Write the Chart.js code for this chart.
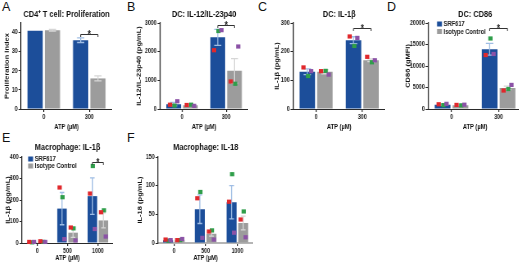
<!DOCTYPE html>
<html>
<head>
<meta charset="utf-8">
<script src="https://cdn.jsdelivr.net/npm/chart.js@4.4.1/dist/chart.umd.min.js"></script>
<style>
html, body { margin: 0; padding: 0; background: #fff; }
#fig { position: relative; width: 519px; height: 264px; overflow: hidden; }
.panel { position: absolute; transform-origin: 0 0; }
.lbl { position: absolute; font: 12.5px 'Liberation Sans', Arial, sans-serif; line-height: 12px; color: #111; }
</style>
</head>
<body>
<div id="fig">
  <div class="lbl" style="left:2px;top:1px">A</div>
  <div class="lbl" style="left:127px;top:1px">B</div>
  <div class="lbl" style="left:258px;top:1px">C</div>
  <div class="lbl" style="left:387px;top:1px">D</div>
  <div class="lbl" style="left:2px;top:132px">E</div>
  <div class="lbl" style="left:127px;top:132px">F</div>
  <div class="panel" id="wrapA"><canvas id="chartA"></canvas></div>
  <div class="panel" id="wrapB"><canvas id="chartB"></canvas></div>
  <div class="panel" id="wrapC"><canvas id="chartC"></canvas></div>
  <div class="panel" id="wrapD"><canvas id="chartD"></canvas></div>
  <div class="panel" id="wrapE"><canvas id="chartE"></canvas></div>
  <div class="panel" id="wrapF"><canvas id="chartF"></canvas></div>
</div>
<script>
// ---- データ ----
const atpTop = ['0', '300'];
const atpBottom = ['0', '500', '1000'];

// A: CD4+ T cell proliferation
const aSrf = [41, 36];
const aSrfErr = [0, 1.2];
const aIso = [41.2, 16];
const aIsoErr = [0.4, 1.3];

// B: DC IL-12/IL-23p40
const bSrf = [170, 2500];
const bSrfErr = [60, 280];
const bIso = [130, 1330];
const bIsoErr = [15, 430];
const bSrfGreen = [120, 2720];
const bSrfRed = [150, 2050];
const bSrfPurple = [270, 2750];
const bIsoGreen = [150, 880];
const bIsoRed = [140, 960];
const bIsoPurple = [110, 2180];

// C: DC IL-1b
const cSrf = [130, 240];
const cSrfErr = [10, 12];
const cIso = [130, 170];
const cIsoErr = [7, 5];
const cSrfGreen = [115, 220];
const cSrfRed = [145, 253];
const cSrfPurple = [132, 248];
const cIsoGreen = [133, 163];
const cIsoRed = [132, 182];
const cIsoPurple = [120, 170];

// D: DC CD86
const dSrf = [1000, 13900];
const dSrfErr = [150, 1350];
const dIso = [900, 4900];
const dIsoErr = [80, 400];
const dSrfGreen = [900, 16400];
const dSrfRed = [1100, 12550];
const dSrfPurple = [1200, 12800];
const dIsoGreen = [850, 4650];
const dIsoRed = [950, 4300];
const dIsoPurple = [1000, 5600];

// E: Macrophage IL-1b
const eSrf = [5, 160, 218];
const eSrfErr = [1, 75, 85];
const eIso = [6, 48, 105];
const eIsoErr = [2, 22, 35];
const eSrfGreen = [3, 213, 358];
const eSrfRed = [5, 258, 230];
const eSrfPurple = [5, 18, 65];
const eIsoGreen = [5, 68, 152];
const eIsoRed = [8, 72, 143];
const eIsoPurple = [5, 12, 30];

// F: Macrophage IL-18
const fSrf = [5, 59, 71];
const fSrfErr = [1, 25, 29];
const fIso = [5, 16, 35];
const fIsoErr = [1, 4, 12];
const fSrfGreen = [4, 89, 120];
const fSrfRed = [6, 78, 72];
const fSrfPurple = [5, 9, 18];
const fIsoGreen = [5, 22, 55];
const fIsoRed = [5, 20, 41];
const fIsoPurple = [7, 6, 10];

// ---- スタイル ----
const BLUE = '#1c4e9a';
const GREY = '#9c9c9c';
const BLUE_ERR = '#9fbde4';
const GREY_ERR = '#d6d6d6';
const DONOR_COLORS = ['#2f9e4a', '#e0282c', '#8b52a6']; // green, red, purple
const DONOR_SHIFT = [0.05, -0.25, 0.25];
const FONT = "'Liberation Sans', Arial, sans-serif";
// 元の図は横方向に縮んでいるので、横に縮めて描く
const SQUEEZE = 0.82;

Chart.defaults.font.family = FONT;
Chart.defaults.color = '#1a1a1a';

// エラーバー・ドット・有意差ブラケット・凡例
const marksPlugin = {
    id: 'marks',
    afterDatasetsDraw(chart, args, opts) {
        const ctx = chart.ctx;
        const ys = chart.scales.y;
        ctx.save();
        chart.data.datasets.forEach((ds, di) => {
            const meta = chart.getDatasetMeta(di);
            meta.data.forEach((bar, i) => {
                const e = ds.errors[i];
                if (e > 0) {
                    const x = bar.x;
                    const c = bar.width * 0.24;
                    const yt = ys.getPixelForValue(ds.data[i] + e);
                    const yb = ys.getPixelForValue(Math.max(ds.data[i] - e, 0));
                    ctx.strokeStyle = ds.errColor;
                    ctx.lineWidth = 1.3;
                    ctx.beginPath();
                    ctx.moveTo(x, yt); ctx.lineTo(x, yb);
                    ctx.moveTo(x - c, yt); ctx.lineTo(x + c, yt);
                    ctx.moveTo(x - c, yb); ctx.lineTo(x + c, yb);
                    ctx.stroke();
                }
            });
        });
        chart.data.datasets.forEach((ds, di) => {
            const meta = chart.getDatasetMeta(di);
            (ds.dots || []).forEach((vals, k) => {
                ctx.fillStyle = DONOR_COLORS[k];
                meta.data.forEach((bar, i) => {
                    const px = bar.x + DONOR_SHIFT[k] * bar.width;
                    const py = ys.getPixelForValue(vals[i]);
                    ctx.fillRect(px - 2.6, py - 2.1, 5.2, 4.2);
                });
            });
        });
        if (opts.bracket) {
            const b = opts.bracket;
            const x1 = chart.getDatasetMeta(0).data[b.index].x;
            const x2 = chart.getDatasetMeta(1).data[b.index].x;
            const y = Math.round(ys.getPixelForValue(b.value)) + 0.5;
            ctx.strokeStyle = '#333';
            ctx.lineWidth = 1;
            ctx.beginPath();
            ctx.moveTo(x1, y + 2.5); ctx.lineTo(x1, y); ctx.lineTo(x2, y); ctx.lineTo(x2, y + 2.5);
            ctx.stroke();
            ctx.fillStyle = '#222';
            ctx.font = 'bold 10px ' + FONT;
            ctx.textAlign = 'center';
            ctx.textBaseline = 'alphabetic';
            ctx.fillText('*', (x1 + x2) / 2, y + 3);
        }
        if (opts.legend) {
            const area = chart.chartArea;
            const lx = area.left + opts.legend.dx;
            let ly = area.top + opts.legend.dy;
            ctx.font = 'bold 7px ' + FONT;
            ctx.textAlign = 'left';
            ctx.textBaseline = 'middle';
            chart.data.datasets.forEach(ds => {
                ctx.fillStyle = ds.backgroundColor;
                ctx.fillRect(lx, ly - 2.5, 6, 5);
                ctx.fillStyle = '#1a1a1a';
                ctx.fillText(ds.label, lx + 8, ly + 0.5);
                ly += opts.legend.step;
            });
        }
        ctx.restore();
    }
};

// パネル位置 (ページ座標: canvas左端 cx, プロット左 L, 右 R)
const layoutTop = { cy: 0, T: 23, B: 109, hx: 22, titleY: 15 };
const layoutBottom = { cy: 134, T: 157, B: 243, hx: 19, titleY: 148 };

function makeDatasets(srf, srfErr, iso, isoErr, srfDots, isoDots) {
    return [
        { label: 'SRF617', data: srf, errors: srfErr, dots: srfDots, backgroundColor: BLUE, errColor: BLUE_ERR },
        { label: 'Isotype Control', data: iso, errors: isoErr, dots: isoDots, backgroundColor: GREY, errColor: GREY_ERR }
    ];
}

function makePanel(id, geo, row, labels, datasets, yMax, yStep, yTitle, title, marks, barPct) {
    const wrap = document.getElementById('wrap' + id);
    const canvas = document.getElementById('chart' + id);
    const w = Math.round((geo.R - geo.cx) / SQUEEZE);
    const h = row.B + row.hx - row.cy;
    wrap.style.left = geo.cx + 'px';
    wrap.style.top = row.cy + 'px';
    wrap.style.transform = 'scaleX(' + SQUEEZE + ')';
    canvas.width = w;
    canvas.height = h;
    canvas.style.width = w + 'px';
    canvas.style.height = h + 'px';
    const titleTop = row.titleY - 4.5 - row.cy;
    const axisColor = '#2a2a2a';

    return new Chart(canvas.getContext('2d'), {
        type: 'bar',
        data: { labels: labels, datasets: datasets },
        plugins: [marksPlugin],
        options: {
            responsive: false,
            animation: false,
            devicePixelRatio: 1,
            layout: { padding: 0 },
            datasets: { bar: { categoryPercentage: barPct[0], barPercentage: barPct[1] } },
            plugins: {
                legend: { display: false },
                tooltip: { enabled: false },
                title: {
                    display: true,
                    text: title,
                    fullSize: false,
                    color: '#111',
                    font: { size: 9, weight: 'bold', lineHeight: 1 },
                    padding: { top: titleTop, bottom: row.T - row.cy - titleTop - 9 }
                },
                marks: marks
            },
            scales: {
                x: {
                    offset: true,
                    grid: { display: true, drawOnChartArea: false, offset: false, tickLength: 3, color: axisColor, lineWidth: 1.2 },
                    border: { display: true, color: geo.xAxisColor || axisColor, width: geo.xAxisWidth || 1 },
                    ticks: { font: { size: 6.5, weight: 'bold' }, color: '#1a1a1a', padding: 1, maxRotation: 0, autoSkip: false },
                    title: { display: true, text: 'ATP (µM)', font: { size: 7, weight: 'bold', lineHeight: 1.2 }, color: '#111', padding: 0 },
                    afterFit: s => { s.height = row.hx; }
                },
                y: {
                    min: 0,
                    max: yMax,
                    ticks: {
                        stepSize: yStep,
                        font: { size: 6.5, weight: 'bold' },
                        color: '#1a1a1a',
                        padding: 1,
                        callback: v => String(v)
                    },
                    afterBuildTicks: s => { s.ticks = s.ticks.filter(t => t.value % yStep === 0); },
                    grid: { display: true, drawOnChartArea: false, tickLength: 3, color: axisColor },
                    border: { display: true, color: axisColor, width: 1.3 },
                    title: { display: true, text: yTitle, font: { size: 7.5, weight: 'bold', lineHeight: 1.2 }, color: '#111', padding: 0 },
                    afterFit: s => { s.width = (geo.L - geo.cx) / SQUEEZE; }
                }
            }
        }
    });
}

const pctTop = [0.76, 0.88];
const pctBottom = [0.73, 0.86];

makePanel('A', { cx: 3, L: 21, R: 112 }, layoutTop, atpTop,
    makeDatasets(aSrf, aSrfErr, aIso, aIsoErr, [], []),
    45, 10, 'Proliferation Index', 'CD4⁺ T cell: Proliferation',
    { bracket: { index: 1, value: 39.5 } }, pctTop);

makePanel('B', { cx: 135, L: 160, R: 248 }, layoutTop, atpTop,
    makeDatasets(bSrf, bSrfErr, bIso, bIsoErr, [bSrfGreen, bSrfRed, bSrfPurple], [bIsoGreen, bIsoRed, bIsoPurple]),
    3000, 1000, 'IL-12/IL-23p40 (pg/mL)', 'DC: IL-12/IL-23p40',
    { bracket: { index: 1, value: 2930 } }, pctTop);

makePanel('C', { cx: 273, L: 293, R: 385 }, layoutTop, atpTop,
    makeDatasets(cSrf, cSrfErr, cIso, cIsoErr, [cSrfGreen, cSrfRed, cSrfPurple], [cIsoGreen, cIsoRed, cIsoPurple]),
    300, 100, 'IL-1β (pg/mL)', 'DC: IL-1β',
    { bracket: { index: 1, value: 282 } }, pctTop);

makePanel('D', { cx: 404, L: 428, R: 522 }, layoutTop, atpTop,
    makeDatasets(dSrf, dSrfErr, dIso, dIsoErr, [dSrfGreen, dSrfRed, dSrfPurple], [dIsoGreen, dIsoRed, dIsoPurple]),
    20000, 5000, 'CD86 (gMFI)', 'DC: CD86',
    { bracket: { index: 1, value: 18800 }, legend: { dx: 11, dy: 1, step: 7.5 } }, pctTop);

makePanel('E', { cx: 4, L: 22, R: 113 }, layoutBottom, atpBottom,
    makeDatasets(eSrf, eSrfErr, eIso, eIsoErr, [eSrfGreen, eSrfRed, eSrfPurple], [eIsoGreen, eIsoRed, eIsoPurple]),
    400, 100, 'IL-1β (pg/mL)', 'Macrophage: IL-1β',
    { bracket: { index: 2, value: 377 }, legend: { dx: 7.5, dy: 2, step: 7 } }, pctBottom);

makePanel('F', { cx: 136, L: 158, R: 253, xAxisColor: '#b5b5b5', xAxisWidth: 2 }, layoutBottom, atpBottom,
    makeDatasets(fSrf, fSrfErr, fIso, fIsoErr, [fSrfGreen, fSrfRed, fSrfPurple], [fIsoGreen, fIsoRed, fIsoPurple]),
    150, 50, 'IL-18 (pg/mL)', 'Macrophage: IL-18',
    {}, pctBottom);
</script>
</body>
</html>
